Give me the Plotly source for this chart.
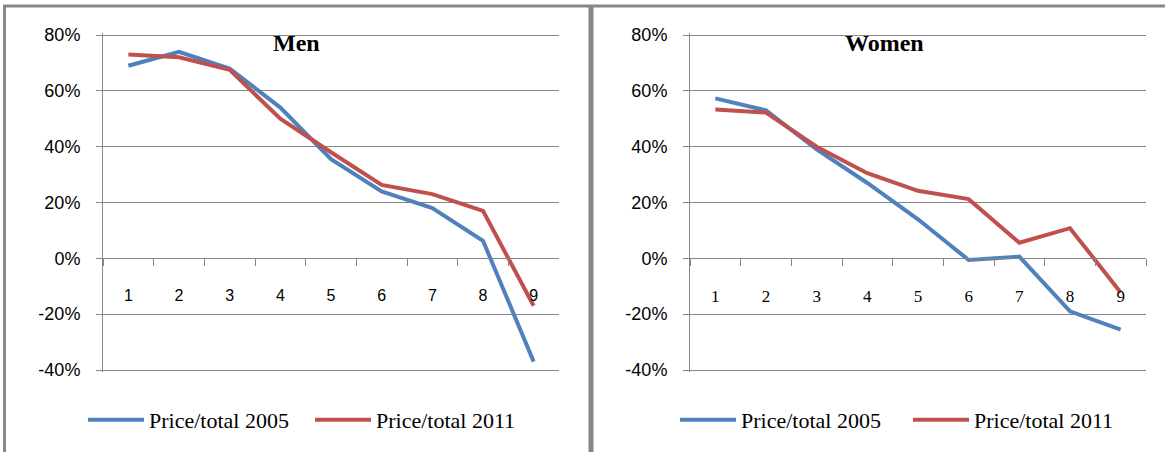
import plotly.graph_objects as go

# Categories and series values
categories = ["1", "2", "3", "4", "5", "6", "7", "8", "9"]
series_names = ["Price/total 2005", "Price/total 2011"]
panel_titles = ["Men", "Women"]

men_2005 = [0.69, 0.74, 0.68, 0.54, 0.355, 0.24, 0.18, 0.063, -0.37]
men_2011 = [0.73, 0.72, 0.675, 0.50, 0.38, 0.263, 0.23, 0.17, -0.17]
women_2005 = [0.573, 0.53, 0.39, 0.27, 0.14, -0.006, 0.006, -0.19, -0.255]
women_2011 = [0.533, 0.522, 0.40, 0.305, 0.242, 0.212, 0.056, 0.108, -0.122]

y_ticks = [-0.4, -0.2, 0.0, 0.2, 0.4, 0.6, 0.8]
y_ticktext = [f"{round(v * 100)}%" for v in y_ticks]

W, H = 1165, 452
BLUE = "#4F81BD"
RED = "#C0504D"
GRID = "#868686"
FRAME = "#878787"


def px(x):
    return x / W


def py(y):
    return 1 - y / H


# Plot area: 80% sits at y=35 px, -40% at y=370 px; the range is widened by a
# couple of pixels so the outermost gridlines are still drawn.
top_px, bot_px, extra_px = 35, 370, 2
y_lo, y_hi = y_ticks[0], y_ticks[-1]
per_px = (y_hi - y_lo) / (bot_px - top_px)
y_range = [y_lo - extra_px * per_px, y_hi + extra_px * per_px]
y_dom = [py(bot_px + extra_px), py(top_px - extra_px)]
zero_pos = y_dom[0] + (0 - y_range[0]) / (y_range[1] - y_range[0]) * (y_dom[1] - y_dom[0])

panels = [
    dict(x_dom=[px(103), px(559)], data=[men_2005, men_2011], title=panel_titles[0],
         title_x=296.5, cat_font="Liberation Sans", cat_size=16,
         legend_x=[83, 310]),
    dict(x_dom=[px(690), px(1146)], data=[women_2005, women_2011], title=panel_titles[1],
         title_x=884, cat_font="Liberation Serif", cat_size=17,
         legend_x=[675, 908]),
]

fig = go.Figure()
layout = dict(
    width=W, height=H, autosize=False,
    margin=dict(l=0, r=0, t=0, b=0, autoexpand=False),
    paper_bgcolor="white", plot_bgcolor="white",
    showlegend=True,
    annotations=[], shapes=[],
)

legend_idx = 0
for i, p in enumerate(panels):
    xa = "xaxis" if i == 0 else f"xaxis{i + 1}"
    ya = "yaxis" if i == 0 else f"yaxis{i + 1}"
    xr = "x" if i == 0 else f"x{i + 1}"
    yr = "y" if i == 0 else f"y{i + 1}"

    for name, vals, color, lx in zip(series_names, p["data"], [BLUE, RED], p["legend_x"]):
        legend_idx += 1
        lname = "legend" if legend_idx == 1 else f"legend{legend_idx}"
        fig.add_trace(go.Scatter(
            x=categories, y=vals, mode="lines", name=name,
            line=dict(color=color, width=4),
            xaxis=xr, yaxis=yr, legend=lname,
        ))
        layout[lname] = dict(
            x=px(lx), xanchor="left", y=py(420), yanchor="middle",
            orientation="h", bgcolor="rgba(0,0,0,0)", borderwidth=0,
            font=dict(family="Liberation Serif", size=22, color="black"),
            itemwidth=56,
        )

    layout[xa] = dict(
        domain=p["x_dom"], type="category", categoryorder="array",
        categoryarray=categories, range=[-0.5, len(categories) - 0.5],
        anchor="free", position=zero_pos,
        showline=True, linecolor=GRID, linewidth=1,
        ticks="outside", ticklen=7, tickcolor=GRID, tickwidth=1,
        tickson="boundaries", showgrid=False, zeroline=False,
        ticklabelstandoff=22,
        tickfont=dict(family=p["cat_font"], size=p["cat_size"], color="black"),
    )
    layout[ya] = dict(
        domain=y_dom, anchor=xr, range=y_range,
        tickvals=y_ticks, ticktext=y_ticktext,
        showline=True, linecolor=GRID, linewidth=1,
        ticks="outside", ticklen=6, tickcolor=GRID, tickwidth=1,
        showgrid=True, gridcolor=GRID, gridwidth=1, zeroline=False,
        ticklabelstandoff=12,
        tickfont=dict(family="Liberation Sans", size=18, color="black"),
    )
    layout["annotations"].append(dict(
        text=f"<b>{p['title']}</b>", xref="paper", yref="paper",
        x=px(p["title_x"]), y=py(43), xanchor="center", yanchor="middle",
        showarrow=False,
        font=dict(family="Liberation Serif", size=24, color="black"),
    ))

# Chart-object frames
layout["shapes"] += [
    dict(type="line", xref="paper", yref="paper", x0=px(3), x1=1, y0=py(6), y1=py(6),
         line=dict(color=FRAME, width=3)),
    dict(type="line", xref="paper", yref="paper", x0=px(4.5), x1=px(4.5), y0=py(5), y1=0,
         line=dict(color=FRAME, width=3)),
    dict(type="line", xref="paper", yref="paper", x0=px(591), x1=px(591), y0=py(5), y1=0,
         line=dict(color=FRAME, width=5)),
]

fig.update_layout(**layout)
fig.write_html("out.html")
